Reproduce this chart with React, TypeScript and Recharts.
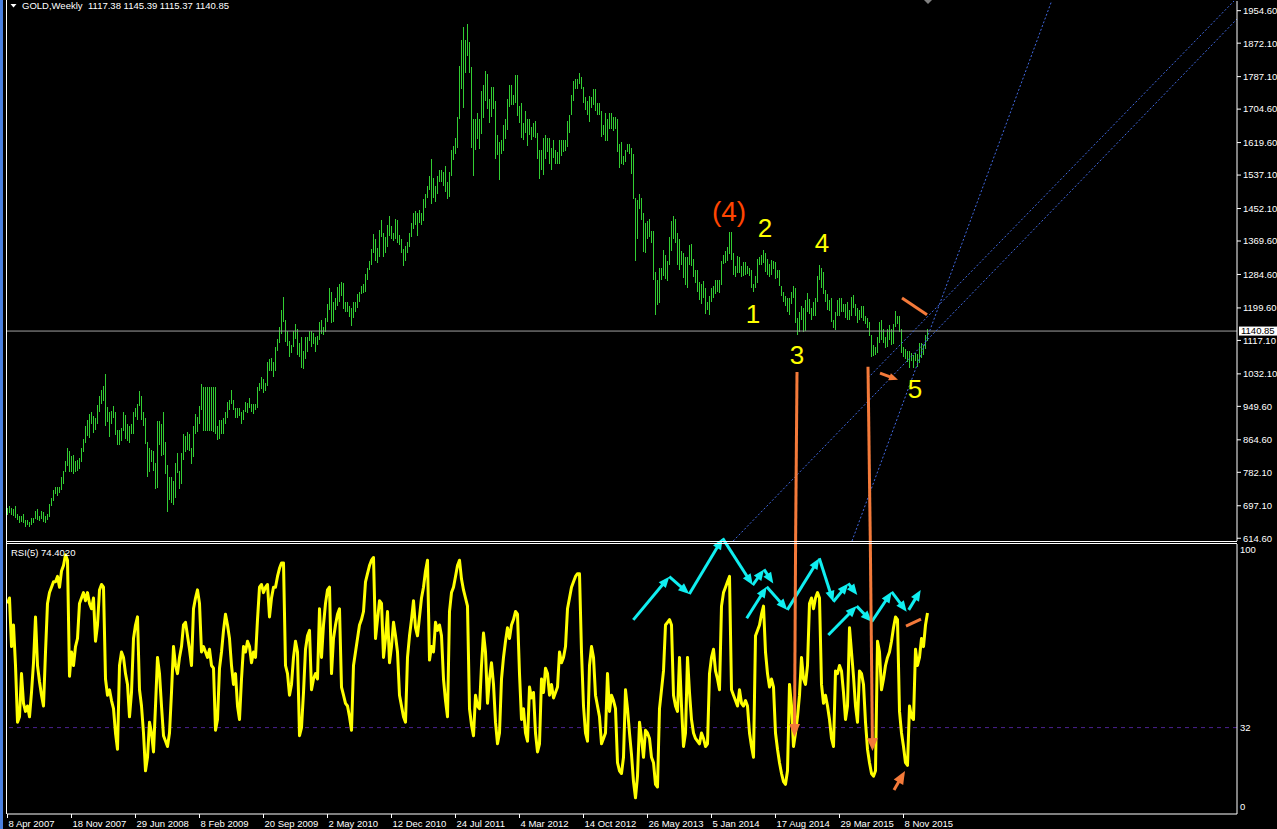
import React from 'react';
import { ComposedChart, Bar, Line, XAxis, YAxis, ReferenceLine, ReferenceDot } from 'recharts';

const FONT = '"Liberation Sans", Arial, sans-serif';

// weekly [high, low], first bar = week of 8 Apr 2007
const hl2007: [number, number][] = [
  [692,675],[697,680],[692,673],[689,672],[696,666],[675,659],[670,652],[670,655],[676,653],[662,645],
  [662,650],[655,642],[665,648],[667,655],[683,662],[688,661],[672,660],[685,664],[680,654],[672,655],
  [676,662],[702,668],[716,695],[737,709],[744,726],[746,724],[746,730],[770,736],[785,753],[810,782],
  [845,800],[835,782],[823,783],[826,779],[810,781],[814,786],[818,789],[845,810],[866,832],
];
const hl2008: [number, number][] = [
  [900,856],[915,875],[930,870],[935,905],[926,882],[920,890],[953,905],[976,935],[990,955],[1001,962],
  [1033,902],[948,910],[935,871],[937,905],[950,920],[935,876],[890,851],[890,852],[895,862],[935,888],
  [928,868],[905,862],[900,858],[905,880],[935,880],[945,922],[955,915],[988,950],[975,915],[935,900],
  [920,855],[860,772],[845,785],[840,810],[835,784],[805,740],[912,741],[912,850],[905,823],[935,825],
  [860,779],[800,681],[770,711],[770,705],[760,700],[805,715],[830,780],[785,740],[830,750],[880,815],
  [875,835],[885,840],
];
const hl2009: [number, number][] = [
  [880,837],[845,805],[900,820],[930,880],[922,885],[950,905],[1006,940],[1000,889],[1000,889],[1000,889],
  [1000,889],[1000,889],[1000,885],[1000,880],[900,865],[915,866],[915,880],[920,880],[935,905],[960,920],
  [965,940],[990,955],[965,940],[945,920],[945,920],[945,925],[935,905],[940,915],[960,935],[958,933],
  [970,945],[955,935],[955,930],[955,939],[998,945],[1010,990],[1025,995],[1020,985],[1010,990],[1063,1002],
  [1070,1040],[1072,1040],[1062,1025],[1100,1040],[1120,1090],[1150,1110],[1195,1135],[1227,1163],[1170,1115],[1140,1102],
  [1115,1075],[1105,1085],
];
const hl2010: [number, number][] = [
  [1140,1100],[1160,1122],[1145,1080],[1110,1075],[1125,1045],[1090,1044],[1125,1068],[1125,1086],[1140,1115],[1140,1100],
  [1135,1106],[1125,1088],[1128,1105],[1165,1120],[1170,1135],[1150,1130],[1175,1140],[1210,1165],[1250,1195],[1240,1160],
  [1215,1165],[1225,1195],[1253,1205],[1260,1215],[1266,1230],[1262,1195],[1215,1190],[1215,1190],[1205,1178],[1200,1155],
  [1215,1175],[1215,1190],[1235,1200],[1240,1215],[1255,1235],[1260,1238],[1285,1240],[1300,1270],[1318,1295],[1350,1310],
  [1388,1340],[1375,1318],[1352,1315],[1398,1330],[1424,1380],[1390,1330],[1380,1340],[1410,1355],[1432,1380],[1408,1375],
  [1390,1370],[1425,1375],
];
const hl2011: [number, number][] = [
  [1423,1365],[1385,1360],[1375,1340],[1350,1308],[1358,1320],[1368,1340],[1390,1355],[1415,1380],[1440,1400],[1445,1410],
  [1440,1381],[1448,1415],[1440,1410],[1476,1420],[1490,1455],[1510,1480],[1535,1500],[1577,1462],[1530,1480],[1510,1470],
  [1535,1490],[1550,1520],[1550,1520],[1545,1510],[1560,1495],[1520,1478],[1545,1482],[1600,1535],[1610,1575],[1630,1590],
  [1685,1605],[1815,1680],[1880,1755],[1912,1705],[1880,1795],[1921,1840],[1875,1795],[1812,1605],[1680,1535],[1680,1600],
  [1695,1630],[1680,1605],[1750,1640],[1765,1680],[1802,1725],[1795,1705],[1730,1670],[1760,1685],[1760,1705],[1725,1578],
  [1640,1590],[1620,1523],
];
const hl2012: [number, number][] = [
  [1625,1590],[1665,1600],[1680,1630],[1730,1650],[1765,1710],[1765,1715],[1740,1715],[1790,1720],[1792,1688],[1712,1670],
  [1720,1632],[1670,1627],[1700,1645],[1680,1612],[1680,1640],[1660,1627],[1670,1635],[1675,1632],[1645,1580],[1600,1527],
  [1600,1548],[1630,1535],[1640,1580],[1630,1595],[1630,1565],[1605,1550],[1625,1580],[1600,1565],[1595,1565],[1625,1565],
  [1625,1585],[1625,1595],[1625,1596],[1675,1610],[1690,1645],[1740,1690],[1775,1725],[1780,1755],[1780,1755],[1796,1768],
  [1785,1755],[1760,1720],[1735,1702],[1725,1690],[1738,1672],[1735,1708],[1755,1715],[1755,1700],[1720,1690],[1720,1690],
  [1700,1635],[1665,1640],[1695,1625],
];
const hl2013: [number, number][] = [
  [1680,1625],[1695,1655],[1695,1655],[1685,1650],[1685,1655],[1680,1596],[1615,1555],[1620,1565],[1585,1562],[1600,1570],
  [1615,1595],[1615,1590],[1605,1540],[1590,1475],[1480,1321],[1475,1375],[1488,1450],[1480,1425],[1440,1340],[1415,1340],
  [1420,1375],[1425,1380],[1395,1365],[1395,1270],[1290,1180],[1270,1207],[1300,1210],[1300,1270],[1348,1282],[1335,1275],
  [1320,1270],[1380,1310],[1420,1345],[1434,1375],[1425,1365],[1390,1308],[1375,1295],[1345,1310],[1340,1277],[1330,1260],
  [1330,1251],[1360,1310],[1362,1305],[1325,1280],[1295,1262],[1295,1240],[1265,1220],[1260,1210],[1267,1225],[1250,1185],
  [1215,1195],[1230,1182],
];
const hl2014: [number, number][] = [
  [1250,1215],[1255,1225],[1270,1235],[1270,1240],[1270,1238],[1320,1260],[1333,1310],[1345,1315],[1355,1320],[1392,1335],
  [1392,1322],[1340,1285],[1305,1277],[1332,1290],[1330,1290],[1305,1277],[1315,1280],[1315,1283],[1305,1285],[1300,1280],
  [1295,1250],[1260,1240],[1280,1250],[1325,1265],[1330,1310],[1335,1310],[1346,1312],[1340,1292],[1325,1285],[1312,1280],
  [1322,1285],[1320,1300],[1315,1272],[1295,1275],[1295,1255],[1255,1230],[1240,1215],[1230,1205],[1225,1190],[1225,1183],
  [1240,1210],[1255,1225],[1250,1160],[1175,1131],[1190,1140],[1205,1170],[1200,1140],[1220,1142],[1238,1190],[1222,1185],
  [1200,1170],[1215,1180],
];
const hl2015: [number, number][] = [
  [1225,1180],[1280,1215],[1308,1270],[1300,1250],[1290,1233],[1245,1215],[1235,1195],[1220,1192],[1225,1165],[1170,1150],
  [1188,1142],[1220,1180],[1225,1180],[1225,1190],[1210,1190],[1210,1175],[1215,1170],[1195,1170],[1228,1180],[1232,1200],
  [1210,1180],[1200,1162],[1195,1170],[1205,1175],[1205,1168],[1180,1160],[1175,1150],[1165,1130],[1132,1077],[1105,1077],
  [1100,1080],[1125,1085],[1165,1112],[1170,1120],[1145,1110],[1125,1098],[1145,1100],[1157,1120],[1145,1105],[1160,1110],
  [1191,1150],[1180,1160],[1180,1140],[1145,1085],[1100,1075],[1095,1070],[1090,1062],[1090,1046],[1085,1065],[1080,1046],
  [1085,1065],[1082,1048],
];
const hl2016: [number, number][] = [[1110,1060],[1110,1072],[1105,1080],[1130,1095],[1145.39,1115.37]];

// RSI(5), same weeks
const rsi2007 = [78,80,62,70,55,34,36,52,41,38,40,36,45,56,73,55,49,44,40,60,78,82,84,86,86,88,84,90,92,96,94,51,60,55,62,65,78,80,82];
const rsi2008 = [79,82,78,76,80,64,70,83,85,84,50,44,46,42,39,30,24,55,60,58,52,48,36,45,65,70,73,46,40,30,16,21,34,30,23,40,58,52,40,29,27,25,30,45,62,55,52,58,62,70,71,66];
const rsi2009 = [61,55,76,80,83,78,60,62,60,58,61,55,54,31,35,54,60,68,74,70,65,55,48,52,40,35,50,62,60,64,62,56,60,58,72,84,85,82,84,85,73,80,84,84,88,91,93,93,55,52,44,48];
const rsi2010 = [58,64,60,29,32,45,61,66,68,46,50,52,50,76,58,70,78,83,84,52,65,70,74,76,47,44,41,40,36,31,55,60,65,70,72,75,86,89,92,94,95,65,72,79,78,58,65,75,56,62,71,66];
const rsi2011 = [60,44,40,36,34,58,66,72,79,69,66,73,80,84,90,94,57,62,60,71,68,70,66,50,42,36,75,82,84,88,92,94,87,83,80,77,39,33,29,44,40,39,55,67,60,41,50,56,48,34,26,30];
const rsi2012 = [50,58,64,69,65,70,72,75,74,52,35,39,30,27,47,43,45,30,23,26,50,45,54,52,44,48,43,45,47,60,56,58,62,76,80,84,86,88,89,89,60,40,30,27,55,62,58,44,40,36,26,28,30];
const rsi2013 = [52,38,44,42,39,19,16,15,21,46,39,30,22,12,6,14,34,28,21,31,30,28,21,19,11,10,39,46,53,70,71,72,70,44,40,38,58,40,25,30,58,45,35,30,28,27,26,30,28,25,26,52];
const rsi2014 = [58,61,53,50,46,77,82,84,86,88,46,44,42,40,46,41,40,42,40,30,25,21,66,68,70,74,77,60,52,47,50,47,30,24,19,15,12,11,16,48,40,25,30,36,44,58,50,48,55,78,80,76];
const rsi2015 = [80,82,80,48,41,44,40,35,28,25,53,52,55,53,45,35,40,69,60,51,40,34,53,52,48,34,24,19,15,14,16,64,60,46,50,55,58,60,64,69,73,72,38,30,25,19,18,40,36,35,61,55];
const rsi2016 = [58,65,62,70,74.402];

const timeLabels = ['8 Apr 2007','18 Nov 2007','29 Jun 2008','8 Feb 2009','20 Sep 2009','2 May 2010','12 Dec 2010','24 Jul 2011','4 Mar 2012','14 Oct 2012','26 May 2013','5 Jan 2014','17 Aug 2014','29 Mar 2015','8 Nov 2015'];
const timeTicks = timeLabels.map((_, k) => k * 32);
const priceTicks = [614.6,697.1,782.1,864.6,949.6,1032.1,1117.1,1199.6,1284.6,1369.6,1452.1,1537.1,1619.6,1704.6,1787.1,1872.1,1954.6];
const rsiTicks = [0, 32, 100];
const lastPrice = 1140.85;

// chart annotations (bar index, value)
const waveLabels = [
  { text: '(4)', x: 360.75, y: 1446, color: '#FF4500', size: 28 },
  { text: '2', x: 378.75, y: 1404, color: '#FFFF00', size: 26 },
  { text: '4', x: 407.25, y: 1365, color: '#FFFF00', size: 26 },
  { text: '1', x: 372.75, y: 1184, color: '#FFFF00', size: 26 },
  { text: '3', x: 394.75, y: 1080, color: '#FFFF00', size: 26 },
  { text: '5', x: 453.75, y: 994, color: '#FFFF00', size: 26 },
];
const blueLines = [
  [[362.85, 607.6], [614.75, 1933.5]],
  [[430.25, 1021.7], [613.75, 1981.8]],
  [[422.25, 607.6], [522.25, 1981.8]],
];
const orangePrice = [
  { a: [394.75, 1037], b: [394.05, 607.6], arrow: false },
  { a: [430.25, 1050], b: [431.4, 607.6], arrow: false },
  { a: [447.25, 1225], b: [459.75, 1182], arrow: false },
  { a: [436.25, 1034], b: [445.25, 1017], arrow: true },
];
const orangeRsi = [
  { a: [394.05, 101], b: [393.5, 28.5], arrow: true },
  { a: [431.4, 101], b: [432.5, 23.3], arrow: true },
  { a: [449.25, 69.6], b: [456.75, 72.2], arrow: false },
  { a: [443.25, 8.9], b: [448.75, 15.9], arrow: true },
];
const cyanPaths = [
  [[312.9,71.9],[330.9,87.9],[340.9,81.5],[357.6,102.1],[372.6,84.8],[378.25,90.6],[382.9,85.4]],
  [[369.6,72.5],[379.6,84.2],[389.9,75.6],[405.9,94.7],[412.9,78.6],[420.4,85.4],[424.9,81.1]],
  [[410.4,66.3],[424.6,77.0],[432.1,71.2],[442.1,82.3],[449.6,74.9]],
  [[450.6,75.6],[456.6,83.0]],
];

const highLow = [...hl2007, ...hl2008, ...hl2009, ...hl2010, ...hl2011, ...hl2012, ...hl2013, ...hl2014, ...hl2015, ...hl2016];
const rsiValues = [...rsi2007, ...rsi2008, ...rsi2009, ...rsi2010, ...rsi2011, ...rsi2012, ...rsi2013, ...rsi2014, ...rsi2015, ...rsi2016];
const chartData = highLow.map(([h, l], i) => ({ i, hl: [l, h], rsi: rsiValues[i] }));

const X_DOMAIN: [number, number] = [-0.25, 614.75];
const ORANGE = '#F47A3A';
const CYAN = '#10EEF0';
const BAR_GREEN = '#32CD32';

// 1px high-low stick, snapped to the pixel grid
const HighLowStick = (props: any) => {
  const { x, y, width, height } = props;
  if (x == null || y == null) return null;
  const cx = Math.floor(x + width / 2);
  return <rect x={cx} y={Math.round(y)} width={1} height={Math.max(1, Math.round(height))} fill={BAR_GREEN} shapeRendering="crispEdges" />;
};

const arrowShape = (color: string, width: number, head: number, withHead: boolean) => (props: any) => {
  const x1 = Number(props.x1), y1 = Number(props.y1), x2 = Number(props.x2), y2 = Number(props.y2);
  if (!withHead) {
    return <line x1={x1} y1={y1} x2={x2} y2={y2} stroke={color} strokeWidth={width} />;
  }
  const len = Math.hypot(x2 - x1, y2 - y1) || 1;
  const ux = (x2 - x1) / len, uy = (y2 - y1) / len;
  const bx = x2 - ux * head, by = y2 - uy * head;
  const hw = head * 0.42;
  const pts = `${x2},${y2} ${bx - uy * hw},${by + ux * hw} ${bx + uy * hw},${by - ux * hw}`;
  return (
    <g>
      <line x1={x1} y1={y1} x2={bx + ux * 2} y2={by + uy * 2} stroke={color} strokeWidth={width} />
      <polygon points={pts} fill={color} />
    </g>
  );
};

const textShape = (text: string, color: string, size: number) => (props: any) => (
  <text x={props.cx} y={props.cy} dy="0.36em" textAnchor="middle" fill={color} fontSize={size} fontFamily={FONT}>
    {text}
  </text>
);

const TimeTick = (props: any) => {
  const { x, y, payload } = props;
  return (
    <text x={x + 1} y={y} dy="0.71em" fill="#fff" fontSize={9.5} fontFamily={FONT} textAnchor="start">
      {timeLabels[timeTicks.indexOf(payload.value)]}
    </text>
  );
};

const RsiTick = (props: any) => {
  const { x, y, payload } = props;
  const shift = payload.value === 100 ? 6 : payload.value === 0 ? -7 : 0;
  return (
    <text x={x} y={y + shift} dy="0.36em" fill="#fff" fontSize={9.5} fontFamily={FONT} textAnchor="start">
      {payload.value}
    </text>
  );
};

export default function App() {
  return (
    <div style={{ position: 'absolute', left: 0, top: 0, width: 1277, height: 829, background: '#000', overflow: 'hidden' }}>
      <div style={{ position: 'absolute', left: 0, top: 0 }}>
        <ComposedChart width={1277} height={546} data={chartData} margin={{ top: 1, right: 0, bottom: 5, left: 7 }}>
          <XAxis type="number" dataKey="i" domain={X_DOMAIN} hide allowDataOverflow />
          <YAxis
            orientation="right"
            width={40}
            domain={[607.6, 1979.2]}
            allowDataOverflow
            ticks={priceTicks}
            interval={0}
            tickFormatter={(v: number) => v.toFixed(2)}
            tick={{ fill: '#fff', fontSize: 9.5, fontFamily: FONT }}
            tickSize={4}
            tickMargin={2}
            axisLine={{ stroke: '#fff' }}
            tickLine={{ stroke: '#fff' }}
          />
          <Bar dataKey="hl" fill={BAR_GREEN} barSize={1} shape={<HighLowStick />} isAnimationActive={false} />
          <ReferenceLine y={lastPrice} stroke="#A0A0A0" ifOverflow="hidden" />
          {blueLines.map((s, k) => (
            <ReferenceLine
              key={`b${k}`}
              segment={[{ x: s[0][0], y: s[0][1] }, { x: s[1][0], y: s[1][1] }]}
              stroke="#4169E1"
              strokeDasharray="2 2"
              ifOverflow="hidden"
            />
          ))}
          {orangePrice.map((s, k) => (
            <ReferenceLine
              key={`o${k}`}
              segment={[{ x: s.a[0], y: s.a[1] }, { x: s.b[0], y: s.b[1] }]}
              ifOverflow="visible"
              shape={arrowShape(ORANGE, 3, 9, s.arrow)}
            />
          ))}
          {waveLabels.map((w) => (
            <ReferenceDot key={w.text} x={w.x} y={w.y} r={0} ifOverflow="visible" shape={textShape(w.text, w.color, w.size)} />
          ))}
          <ReferenceDot
            x={X_DOMAIN[1]}
            y={lastPrice}
            r={0}
            ifOverflow="visible"
            shape={(p: any) => (
              <g>
                <rect x={p.cx + 2} y={p.cy - 4.5} width={38} height={9} fill="#fff" />
                <text x={p.cx + 4} y={p.cy} dy="0.36em" fontSize={9.5} fontFamily={FONT} fill="#000">
                  {lastPrice.toFixed(2)}
                </text>
              </g>
            )}
          />
          <ReferenceDot
            x={460.25}
            y={1979.2}
            r={0}
            ifOverflow="visible"
            shape={(p: any) => <polygon points={`${p.cx - 4},${p.cy - 1} ${p.cx + 4},${p.cy - 1} ${p.cx},${p.cy + 3}`} fill="#808080" />}
          />
        </ComposedChart>
      </div>

      <div style={{ position: 'absolute', left: 0, top: 530 }}>
        <ComposedChart width={1277} height={299} data={chartData} margin={{ top: 14, right: 0, bottom: 0, left: 7 }}>
          <XAxis
            type="number"
            dataKey="i"
            domain={X_DOMAIN}
            allowDataOverflow
            ticks={timeTicks}
            interval={0}
            height={15}
            tick={<TimeTick />}
            tickSize={4}
            axisLine={{ stroke: '#fff' }}
            tickLine={{ stroke: '#fff' }}
          />
          <YAxis
            orientation="right"
            width={40}
            domain={[0, 100]}
            allowDataOverflow
            ticks={rsiTicks}
            interval={0}
            tick={<RsiTick />}
            tickSize={0}
            tickMargin={3}
            tickLine={false}
            axisLine={{ stroke: '#fff' }}
          />
          <ReferenceLine y={32} stroke="#4A2290" strokeDasharray="4 4" />
          <Line
            type="linear"
            dataKey="rsi"
            stroke="#FFFF00"
            strokeWidth={3}
            dot={false}
            isAnimationActive={false}
            strokeLinejoin="round"
          />
          {cyanPaths.flatMap((path, k) =>
            path.slice(1).map((pt, j) => (
              <ReferenceLine
                key={`c${k}-${j}`}
                segment={[{ x: path[j][0], y: path[j][1] }, { x: pt[0], y: pt[1] }]}
                ifOverflow="visible"
                shape={arrowShape(CYAN, 3, 11, true)}
              />
            )),
          )}
          {orangeRsi.map((s, k) => (
            <ReferenceLine
              key={`or${k}`}
              segment={[{ x: s.a[0], y: s.a[1] }, { x: s.b[0], y: s.b[1] }]}
              ifOverflow="visible"
              shape={arrowShape(ORANGE, 3, 13, s.arrow)}
            />
          ))}
        </ComposedChart>
      </div>

      <svg width={1277} height={829} style={{ position: 'absolute', left: 0, top: 0, pointerEvents: 'none' }}>
        <rect x={0} y={0} width={3} height={829} fill="#4A80E0" />
        <line x1={6.5} y1={0} x2={6.5} y2={814} stroke="#fff" />
        <line x1={6} y1={541.5} x2={1237} y2={541.5} stroke="#fff" />
        <line x1={6} y1={543.5} x2={1237} y2={543.5} stroke="#fff" />
        <polygon points="10.5,4 16.5,4 13.5,7.5" fill="#fff" />
        <text x={22} y={9} fill="#fff" fontSize={9.5} fontFamily={FONT}>GOLD,Weekly</text>
        <text x={88} y={9} fill="#fff" fontSize={9.5} fontFamily={FONT}>1117.38 1145.39 1115.37 1140.85</text>
        <text x={11} y={555.5} fill="#fff" fontSize={9.5} fontFamily={FONT}>RSI(5) 74.4020</text>
      </svg>
    </div>
  );
}
